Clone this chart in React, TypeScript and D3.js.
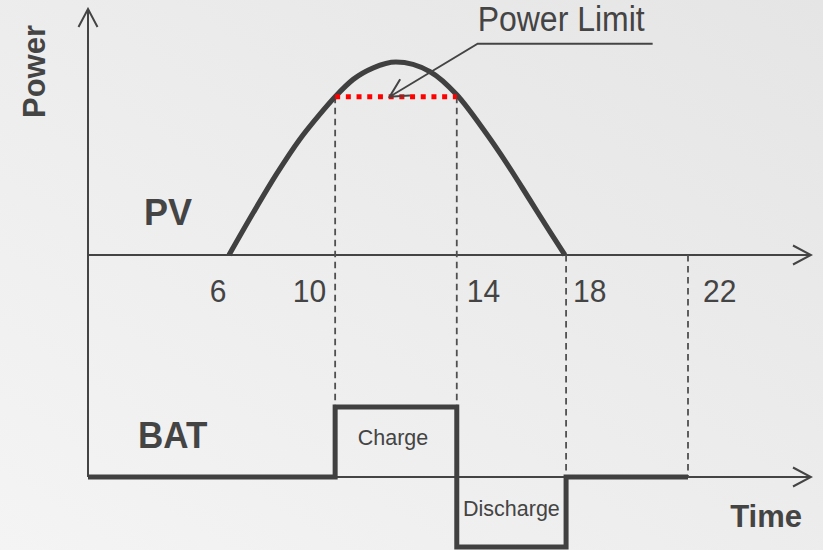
import React, { useEffect, useRef } from 'react'
import * as d3 from 'd3'

// PV output: hour of day, power in % of the peak
const pvHours = [6, 6.85, 7.66, 8.47, 9.17, 9.7, 10.33, 11.03, 11.82, 13.01, 13.94, 14.87, 15.68, 16.49, 17.19, 17.71]
const pvPower = [0, 22, 42, 60, 73, 82, 91, 97, 100, 95, 83, 65, 47.5, 28.5, 12, 0]

// the limit clips PV while the battery charges
const powerLimit = 82
const limitHours = [9.7, 13.94]

// battery state from each hour on: 1 charge, -1 discharge, 0 idle
const batHours = [9.7, 13.94, 17.75, 22]
const batState = [1, -1, 0, 0]

// hour labels under the PV axis, one per marker line
const tickLabels = ['6', '10', '14', '18', '22']
const tickHours = [6, 9.7, 13.94, 17.75, 22]

const W = 823
const H = 550
const ink = '#444'
const font = '"Liberation Sans", Arial, sans-serif'

export default function App() {
  const ref = useRef<SVGSVGElement>(null)

  useEffect(() => {
    const svg = d3.select(ref.current)
    svg.selectAll('*').remove()

    const axisLeft = 88
    const axisRight = 811

    const x = d3.scaleLinear().domain([6, 22]).range([229, 688])
    const yPv = d3.scaleLinear().domain([0, 100]).range([255, 62])
    const yBat = d3.scaleLinear().domain([-1, 1]).range([547, 407])

    const defs = svg.append('defs')
    const grad = defs
      .append('linearGradient')
      .attr('id', 'bg')
      .attr('x1', 0)
      .attr('y1', 1)
      .attr('x2', 1)
      .attr('y2', 0)
    grad.append('stop').attr('offset', '0%').attr('stop-color', '#f4f4f4')
    grad.append('stop').attr('offset', '100%').attr('stop-color', '#e5e5e5')

    defs
      .append('marker')
      .attr('id', 'arrow')
      .attr('markerUnits', 'userSpaceOnUse')
      .attr('viewBox', '-20 -11 22 22')
      .attr('markerWidth', 22)
      .attr('markerHeight', 22)
      .attr('refX', 0)
      .attr('refY', 0)
      .attr('orient', 'auto')
      .append('path')
      .attr('d', 'M-18,-9.5L0,0L-18,9.5')
      .attr('fill', 'none')
      .attr('stroke', ink)
      .attr('stroke-width', 2)

    svg.append('rect').attr('width', W).attr('height', H).attr('fill', 'url(#bg)')

    // axes
    svg
      .append('line')
      .attr('x1', axisLeft)
      .attr('y1', yBat(0))
      .attr('x2', axisLeft)
      .attr('y2', 9)
      .attr('stroke', ink)
      .attr('stroke-width', 2)
      .attr('marker-end', 'url(#arrow)')

    ;[yPv(0), yBat(0)].forEach((y0) => {
      svg
        .append('line')
        .attr('x1', axisLeft)
        .attr('y1', y0)
        .attr('x2', axisRight)
        .attr('y2', y0)
        .attr('stroke', ink)
        .attr('stroke-width', 2)
        .attr('marker-end', 'url(#arrow)')
    })

    // dashed guides from PV down to the battery trace
    const stateAt = (h: number) => {
      let s = 0
      batHours.forEach((bh, i) => {
        if (bh <= h) s = batState[i]
      })
      return s
    }
    svg
      .append('g')
      .selectAll('line')
      .data(batHours)
      .enter()
      .append('line')
      .attr('x1', (h) => x(h))
      .attr('x2', (h) => x(h))
      .attr('y1', (h) => (limitHours.includes(h) ? yPv(powerLimit) : yPv(0)))
      .attr('y2', (h) => yBat(Math.max(stateAt(h - 0.01), stateAt(h), 0)))
      .attr('stroke', '#505050')
      .attr('stroke-width', 1.8)
      .attr('stroke-dasharray', '6.5 4.5')

    // PV curve
    const pvLine = d3
      .line<number>()
      .x((h) => x(h))
      .y((h, i) => yPv(pvPower[i]))
      .curve(d3.curveMonotoneX)

    svg
      .append('path')
      .datum(pvHours)
      .attr('d', pvLine)
      .attr('fill', 'none')
      .attr('stroke', '#404040')
      .attr('stroke-width', 5.2)

    // power limit
    svg
      .append('line')
      .attr('x1', x(limitHours[0]))
      .attr('x2', x(limitHours[1]))
      .attr('y1', yPv(powerLimit))
      .attr('y2', yPv(powerLimit))
      .attr('stroke', '#ff0000')
      .attr('stroke-width', 5)
      .attr('stroke-dasharray', '5 5.7')

    // battery trace
    const batPoints: [number, number][] = [[x.invert(axisLeft), 0]]
    batHours.forEach((h, i) => batPoints.push([h, batState[i]]))
    const batLine = d3
      .line<[number, number]>()
      .x((d) => x(d[0]))
      .y((d) => yBat(d[1]))
      .curve(d3.curveStepAfter)

    svg
      .append('path')
      .datum(batPoints)
      .attr('d', batLine)
      .attr('fill', 'none')
      .attr('stroke', '#404040')
      .attr('stroke-width', 5)
      .attr('stroke-linejoin', 'miter')

    // annotation
    const tipX = x(11.6)
    const tipY = yPv(powerLimit)
    svg
      .append('path')
      .attr('d', `M${tipX + 263},${tipY - 53}H${tipX + 88}L${tipX},${tipY}`)
      .attr('fill', 'none')
      .attr('stroke', ink)
      .attr('stroke-width', 1.8)
      .attr('marker-end', 'url(#arrow)')

    const text = (
      str: string,
      tx: number,
      ty: number,
      size: number,
      weight = 'normal',
      anchor = 'start',
      stretch = 1
    ) =>
      svg
        .append('text')
        .attr('transform', `translate(${tx},${ty}) scale(1,${stretch})`)
        .attr('font-family', font)
        .attr('font-size', size)
        .attr('font-weight', weight)
        .attr('text-anchor', anchor)
        .attr('fill', ink)
        .text(str)

    text('Power Limit', tipX + 88, 31, 32, 'normal', 'start', 1.07)

    // hour labels sit beside their marker lines
    const tickLayout = [
      { anchor: 'middle', dx: -11 },
      { anchor: 'end', dx: -9 },
      { anchor: 'start', dx: 10 },
      { anchor: 'start', dx: 7 },
      { anchor: 'start', dx: 15 },
    ]
    tickLabels.forEach((t, i) => {
      text(t, x(tickHours[i]) + tickLayout[i].dx, 302, 30, 'normal', tickLayout[i].anchor, 1.07)
    })

    text('Charge', x((batHours[0] + batHours[1]) / 2) - 3, 445, 21.5, 'normal', 'middle', 1.03)
    text('Discharge', x((batHours[1] + batHours[2]) / 2), 516, 21.5, 'normal', 'middle', 1.03)

    text('PV', 144, 225, 36, 'bold')
    text('BAT', 138, 448, 35, 'bold', 'start', 1.06)
    text('Time', 802, 527, 31, 'bold', 'end')
    svg
      .append('text')
      .attr('transform', 'translate(45,71.5) rotate(-90)')
      .attr('font-family', font)
      .attr('font-size', 31)
      .attr('font-weight', 'bold')
      .attr('text-anchor', 'middle')
      .attr('fill', ink)
      .text('Power')
  }, [])

  return (
    <svg
      ref={ref}
      width={W}
      height={H}
      style={{ position: 'absolute', left: 0, top: 0, display: 'block' }}
    />
  )
}
